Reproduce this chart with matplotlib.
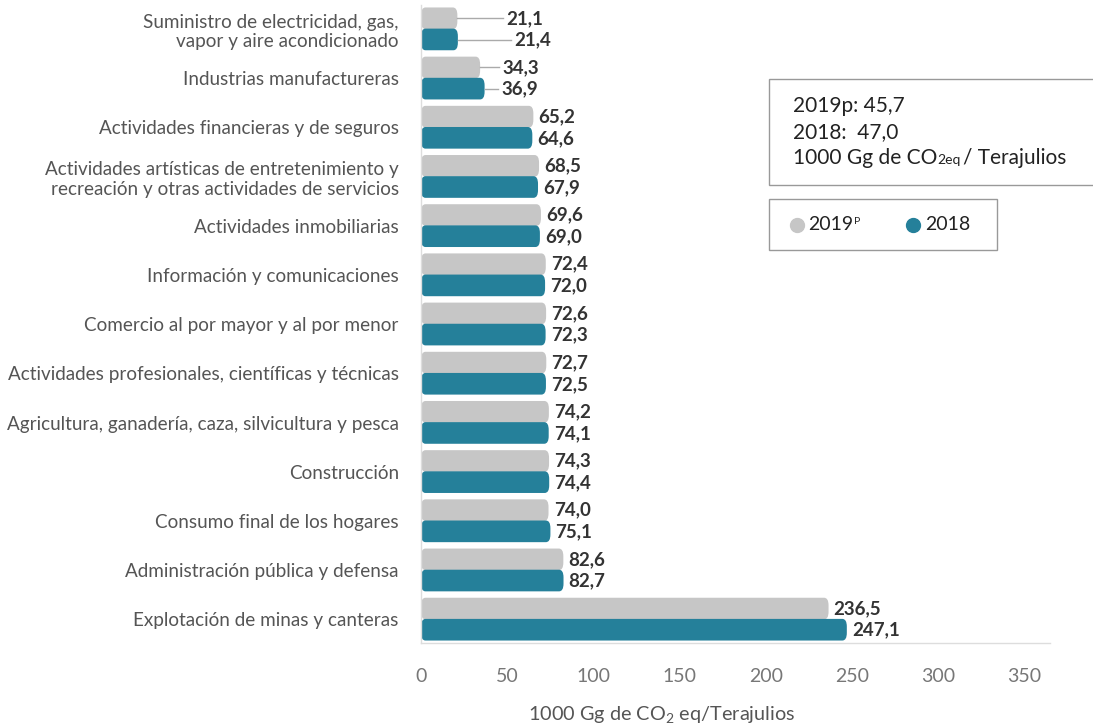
import matplotlib.pyplot as plt
from matplotlib.patches import FancyBboxPatch, Rectangle
import numpy as np

plt.rcParams['font.family'] = ['Lato', 'DejaVu Sans']
plt.rcParams['mathtext.fontset'] = 'custom'
plt.rcParams['mathtext.rm'] = 'Lato'

sectors = ['Suministro de electricidad, gas,\nvapor y aire acondicionado',
           'Industrias manufactureras',
           'Actividades financieras y de seguros',
           'Actividades artísticas de entretenimiento y\nrecreación y otras actividades de servicios',
           'Actividades inmobiliarias',
           'Información y comunicaciones',
           'Comercio al por mayor y al por menor',
           'Actividades profesionales, científicas y técnicas',
           'Agricultura, ganadería, caza, silvicultura y pesca',
           'Construcción',
           'Consumo final de los hogares',
           'Administración pública y defensa',
           'Explotación de minas y canteras']
v2019 = [21.1, 34.3, 65.2, 68.5, 69.6, 72.4, 72.6, 72.7, 74.2, 74.3, 74.0, 82.6, 236.5]
v2018 = [21.4, 36.9, 64.6, 67.9, 69.0, 72.0, 72.3, 72.5, 74.1, 74.4, 75.1, 82.7, 247.1]
xticks = [0, 50, 100, 150, 200, 250, 300, 350]

gray = '#c6c6c6'
teal = '#25809a'
txt = '#333333'
W, H = 1093, 725


def fmt(v):
    return f'{v:.1f}'.replace('.', ',')


def round_bars(ax, bars, color):
    for b in bars:
        x, y = b.get_x(), b.get_y()
        w, h = b.get_width(), b.get_height()
        b.set_visible(False)
        p = FancyBboxPatch((x, y), w, h, boxstyle='round,pad=0,rounding_size=2.6',
                           mutation_aspect=0.06, facecolor=color, edgecolor='none')
        ax.add_patch(p)


def chain(fig, x, y, parts):
    # place text pieces one after the other, x/y in pixels from top-left
    r = fig.canvas.get_renderer()
    for s, size, dy, gap in parts:
        t = fig.text(x / W, (H - y - dy) / H, s, fontsize=size, color='#222222', va='center')
        x = t.get_window_extent(r).x1 + gap
    return x


def main():
    fig = plt.figure(figsize=(10.93, 7.25), dpi=100)
    ax = fig.add_axes([421 / W, 82 / H, 629 / W, 638 / H])

    ind = np.arange(len(sectors))
    h = 0.44
    b1 = ax.barh(ind - h / 2, v2019, h, color=gray)
    b2 = ax.barh(ind + h / 2 - 0.01, v2018, h, color=teal)
    round_bars(ax, b1, gray)
    round_bars(ax, b2, teal)

    ax.set_xlim(0, 365)
    ax.set_ylim(12.48, -0.49)

    # value labels; first two groups use leader lines
    lead_2019 = {0: 47.5, 1: 45.0}
    lead_2018 = {0: 52.0, 1: 44.5}
    for i in ind:
        for vals, off, lead in ((v2019, -h / 2, lead_2019), (v2018, h / 2, lead_2018)):
            v = vals[i]
            y = i + off
            if i in lead:
                xl = lead[i]
                ax.plot([v, xl], [y, y], color='#aaaaaa', lw=1)
                ax.text(xl + 2, y, fmt(v), va='center', ha='left', fontsize=13.5,
                        fontweight='bold', color=txt)
            else:
                ax.text(v + 3, y, fmt(v), va='center', ha='left', fontsize=13.5,
                        fontweight='bold', color=txt)

    ax.set_yticks(ind)
    ax.set_yticklabels(sectors, fontsize=13.6, color='#555555', linespacing=1.2)
    ax.set_xticks(xticks)
    ax.set_xticklabels([str(t) for t in xticks], fontsize=14, color='#777777')
    ax.tick_params(axis='both', length=0)
    ax.tick_params(axis='y', pad=16)
    ax.tick_params(axis='x', pad=18)
    for s in ['top', 'right']:
        ax.spines[s].set_visible(False)
    for s in ['left', 'bottom']:
        ax.spines[s].set_color('#dddddd')
        ax.spines[s].set_linewidth(1)

    fig.text(662 / W, 10 / H, '1000 Gg de CO$_2$ eq/Terajulios', ha='center',
             va='center', fontsize=14.3, color='#555555')

    # summary box
    fig.patches.append(Rectangle((769 / W, (H - 185) / H), 330 / W, 106 / H,
                                 transform=fig.transFigure, facecolor='white',
                                 edgecolor='#999999', lw=1))
    fig.text(793 / W, (H - 106) / H, '2019p: 45,7', fontsize=15, color='#222222', va='center')
    fig.text(793 / W, (H - 132) / H, '2018:  47,0', fontsize=15, color='#222222', va='center')
    chain(fig, 793, 158, [('1000 Gg de CO', 15, 0, 0), ('2eq', 10, 2, 2),
                          ('/ Terajulios', 15, 0, 0)])

    # legend box
    fig.patches.append(Rectangle((769 / W, (H - 250) / H), 228 / W, 51 / H,
                                 transform=fig.transFigure, facecolor='white',
                                 edgecolor='#999999', lw=1))
    ly = (H - 225) / H
    fig.lines.append(plt.Line2D([797 / W], [ly], marker='o', markersize=10, color=gray,
                                transform=fig.transFigure))
    fig.lines.append(plt.Line2D([913 / W], [ly], marker='o', markersize=10, color=teal,
                                transform=fig.transFigure))
    chain(fig, 808, 225, [('2019', 14, 0, 1), ('P', 7.5, -4, 0)])
    fig.text(925 / W, ly, '2018', fontsize=14, color='#222222', va='center')

    plt.savefig('out.png', dpi=100)


if __name__ == '__main__':
    main()
